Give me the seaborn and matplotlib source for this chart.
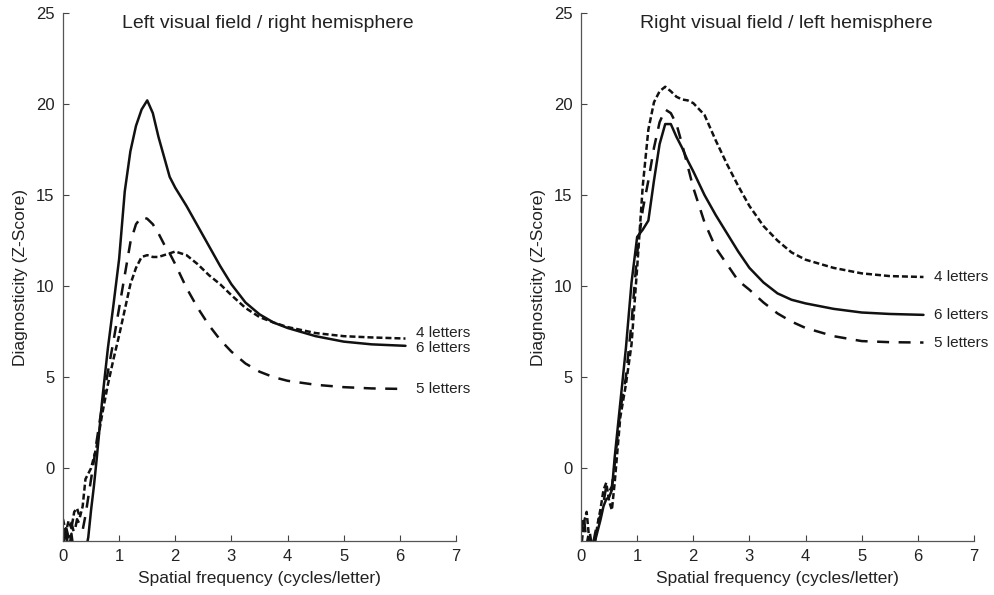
import pandas as pd
import seaborn as sns
import matplotlib.pyplot as plt

sns.set_style("ticks")
plt.rcParams['font.family'] = ['Liberation Sans', 'DejaVu Sans']

# spatial frequency samples (cycles/letter)
freq = [0.0, 0.05, 0.1, 0.15, 0.2, 0.25, 0.3, 0.35, 0.4, 0.45, 0.5, 0.55, 0.6, 0.7, 0.8, 0.9,
        1.0, 1.1, 1.2, 1.3, 1.4, 1.5, 1.6, 1.7, 1.8, 1.9, 2.0, 2.2, 2.4, 2.6, 2.8, 3.0,
        3.25, 3.5, 3.75, 4.0, 4.5, 5.0, 5.5, 6.1]

# left visual field / right hemisphere
lvf_4 = [-2.8, -3.5, -2.9, -3.3, -2.4, -2.2, -2.7, -2.1, -0.6, -0.3, 0.0, 0.6, 1.2, 3.0, 4.6, 6.0,
         7.3, 8.7, 10.1, 11.0, 11.6, 11.7, 11.6, 11.6, 11.7, 11.8, 11.9, 11.7, 11.2, 10.6, 10.1, 9.5,
         8.8, 8.3, 8.0, 7.75, 7.42, 7.25, 7.18, 7.12]
lvf_5 = [-4.3, -3.2, -3.8, -3.0, -3.6, -2.8, -3.1, -3.4, -2.6, -1.6, -0.6, 0.4, 1.5, 3.5, 5.3, 7.0,
         8.8, 10.6, 12.4, 13.4, 13.8, 13.7, 13.4, 12.9, 12.3, 11.8, 11.2, 9.9, 8.8, 7.85, 7.05, 6.4,
         5.75, 5.3, 5.0, 4.8, 4.58, 4.45, 4.38, 4.35]
lvf_6 = [-4.5, -3.3, -4.6, -3.6, -4.8, -5.0, -5.2, -5.0, -4.6, -3.8, -2.3, -1.0, 0.5, 3.8, 6.6, 9.0,
         11.5, 15.2, 17.4, 18.8, 19.7, 20.2, 19.5, 18.2, 17.1, 16.0, 15.4, 14.4, 13.3, 12.2, 11.1, 10.1,
         9.1, 8.45, 8.0, 7.7, 7.25, 6.95, 6.8, 6.72]

# right visual field / left hemisphere
rvf_4 = [-4.5, -3.0, -2.4, -4.0, -4.6, -4.0, -3.0, -2.2, -1.2, -0.8, -1.8, -2.3, -0.8, 2.8, 4.6, 6.8,
         11.0, 15.5, 18.6, 20.1, 20.7, 20.95, 20.7, 20.4, 20.25, 20.2, 20.05, 19.4, 18.0, 16.7, 15.5, 14.4,
         13.3, 12.5, 11.85, 11.45, 11.0, 10.7, 10.55, 10.5]
rvf_5 = [-3.5, -2.6, -4.2, -3.4, -4.4, -3.6, -2.9, -2.6, -1.9, -1.0, -1.3, -1.0, 0.2, 3.2, 5.0, 8.0,
         11.8, 14.2, 15.8, 17.6, 19.0, 19.7, 19.5, 18.9, 17.8, 16.6, 15.4, 13.5, 12.1, 11.2, 10.3, 9.8,
         9.1, 8.5, 8.05, 7.7, 7.25, 6.98, 6.92, 6.9]
rvf_6 = [-5.0, -5.0, -5.2, -4.8, -4.6, -4.0, -3.4, -2.8, -2.1, -1.7, -1.6, -1.2, 0.6, 3.6, 6.6, 10.2,
         12.7, 13.1, 13.6, 15.8, 17.8, 18.9, 18.9, 18.2, 17.6, 16.9, 16.3, 15.0, 13.9, 12.9, 11.9, 11.0,
         10.2, 9.6, 9.25, 9.05, 8.75, 8.55, 8.47, 8.42]

titles = ["Left visual field / right hemisphere", "Right visual field / left hemisphere"]
labels = ["4 letters", "5 letters", "6 letters"]

styles = {
    "4 letters": (0, (2.4, 1.2)),
    "5 letters": (0, (4.8, 3.8)),
    "6 letters": "-",
}

panels = [
    {"4 letters": lvf_4, "5 letters": lvf_5, "6 letters": lvf_6},
    {"4 letters": rvf_4, "5 letters": rvf_5, "6 letters": rvf_6},
]
label_y = [
    {"4 letters": 7.45, "5 letters": 4.35, "6 letters": 6.6},
    {"4 letters": 10.5, "5 letters": 6.9, "6 letters": 8.42},
]

fig = plt.figure(figsize=(9.95, 5.95), dpi=100)
lefts = [63 / 995, 581 / 995]

for i, series in enumerate(panels):
    ax = fig.add_axes([lefts[i], 54 / 595, 393 / 995, 528 / 595])
    for name in labels:
        df = pd.DataFrame({"freq": freq, "z": series[name]})
        sns.lineplot(data=df, x="freq", y="z", ax=ax, color="#111111",
                     linestyle=styles[name], linewidth=1.8)
        ax.text(6.29, label_y[i][name], name, va="center", ha="left",
                fontsize=11, color="#222222")

    ax.text(3.65, 24.45, titles[i], ha="center", va="center", fontsize=14, color="#222222")

    ax.set_xlim(0, 7)
    ax.set_ylim(-4, 25)
    ax.set_xticks(range(0, 8))
    ax.set_yticks(range(0, 26, 5))
    ax.tick_params(direction="in", length=4, width=0.8, pad=6, labelsize=12,
                   colors="#444444", labelcolor="#222222")
    sns.despine(ax=ax)
    for s in ["left", "bottom"]:
        ax.spines[s].set_color("#555555")
        ax.spines[s].set_linewidth(0.9)

    ax.set_xlabel("Spatial frequency (cycles/letter)", fontsize=12.5, color="#222222", labelpad=5)
    ax.set_ylabel("Diagnosticity (Z-Score)", fontsize=12.5, color="#222222")
    ax.yaxis.set_label_coords(-0.088, 0.5)

fig.savefig("out.png", dpi=100)
